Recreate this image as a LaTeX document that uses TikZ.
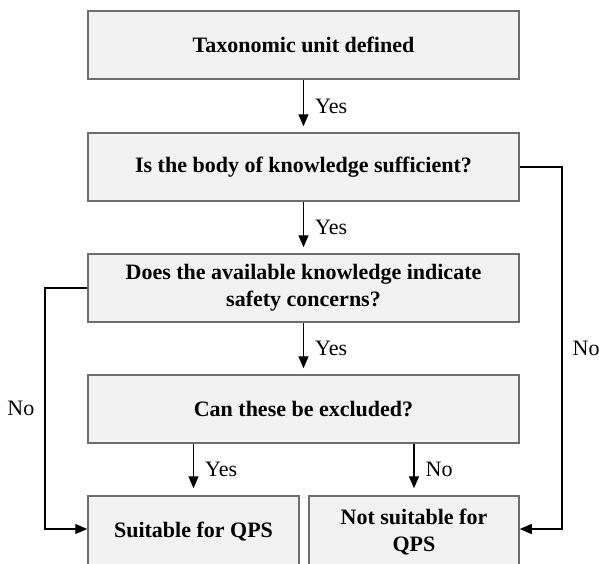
\documentclass[tikz,border=0pt]{standalone}
\usepackage{fontspec}
\setmainfont{Liberation Serif}
\usetikzlibrary{arrows.meta}
\definecolor{boxfill}{HTML}{F2F2F2}
\definecolor{boxgray}{HTML}{6E6E6E}
\tikzset{
  box/.style={draw=boxgray, fill=boxfill, line width=1.5pt, minimum width=431pt, minimum height=68pt,
    inner sep=0pt, align=center, font=\fontsize{22}{27}\selectfont\bfseries},
  flow/.style={line width=1.4pt, -{Triangle[length=12pt,width=10pt]}},
  lbl/.style={inner sep=0pt, font=\fontsize{22}{26}\selectfont},
}
\begin{document}
\begin{tikzpicture}[x=1pt,y=-1pt]
    \clip (0,0) rectangle (599,563);
    \node[box] at (303.5,45) (taxon) {Taxonomic unit defined};
    \node[box] at (303.5,167) (suff) {Is the body of knowledge sufficient?};
    \node[box] at (303.5,288) (concern) {Does the available knowledge indicate\\safety concerns?};
    \node[box] at (303.5,409) (excl) {Can these be excluded?};
    \node[box,minimum width=211pt,minimum height=72pt] at (193.5,532) (suit) {Suitable for QPS};
    \node[box,minimum width=210pt,minimum height=72pt] at (414,532) (nsuit) {Not suitable for\\QPS};
    \foreach \a/\b in {taxon/suff,suff/concern,concern/excl}{
        \draw[flow,shorten >=6pt] (\a) -- node[lbl,midway,right=11pt]{Yes} (\b);
    }
    \draw[flow,shorten >=7pt] (suit.north |- excl.south) -- node[lbl,midway,right=11pt]{Yes} (suit.north);
    \draw[flow,shorten >=7pt] (nsuit.north |- excl.south) -- node[lbl,midway,right=11pt]{No} (nsuit.north);
        \coordinate (rturn) at (562,529);
        \coordinate (lturn) at (45,529);
        \draw[flow] (suff.east) -| node[lbl,pos=0.75,right=10pt]{No} (rturn) -- (rturn -| nsuit.east);
        \draw[flow] (concern.west) -| node[lbl,pos=0.75,left=10pt]{No} (lturn) -- (lturn -| suit.west);
\end{tikzpicture}
\end{document}
